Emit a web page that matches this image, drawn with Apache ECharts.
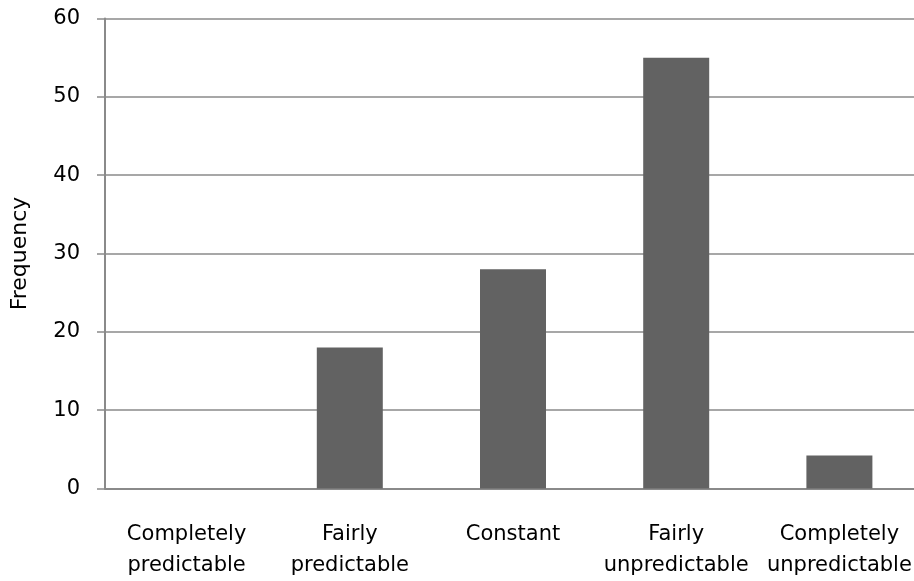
<!DOCTYPE html>
<html><head><meta charset="utf-8">
<script src="https://cdn.jsdelivr.net/npm/echarts@6/dist/echarts.min.js"></script>
<style>html,body{margin:0;padding:0;background:#fff}#c{width:914px;height:581px}</style>
</head><body><div id="c"></div>
<script>
const categories = ['Completely\npredictable', 'Fairly\npredictable', 'Constant', 'Fairly\nunpredictable', 'Completely\nunpredictable'];
const frequency = [0, 18, 28, 55, 4.2];
const yTicks = [0, 10, 20, 30, 40, 50, 60];

const chart = echarts.init(document.getElementById('c'));
chart.setOption({
  animation: false,
  grid: { left: 105, width: 816, top: 18.5, height: 470, outerBoundsMode: 'none', containLabel: false },
  xAxis: {
    type: 'category', data: categories,
    axisLine: { lineStyle: { color: '#8a8a8a', width: 2 } },
    axisTick: { show: false },
    axisLabel: { color: '#000', fontFamily: 'DejaVu Sans', fontSize: 21, lineHeight: 31, margin: 31, interval: 0 }
  },
  yAxis: {
    type: 'value', min: yTicks[0], max: yTicks[yTicks.length - 1], interval: 10,
    name: 'Frequency', nameLocation: 'middle', nameGap: 74, nameRotate: 90,
    nameTextStyle: { color: '#000', fontFamily: 'DejaVu Sans', fontSize: 22 },
    axisLine: { show: true, lineStyle: { color: '#8a8a8a', width: 2 } },
    axisTick: { show: true, length: 8, lineStyle: { color: '#8a8a8a', width: 1.5 } },
    axisLabel: { color: '#000', fontFamily: 'DejaVu Sans', fontSize: 21, margin: 25, padding: [6, 0, 0, 0] },
    splitLine: { lineStyle: { color: '#8a8a8a', width: 1.5 } }
  },
  series: [{
    type: 'bar', data: frequency, barWidth: 66,
    itemStyle: { color: '#626262' }
  }]
});
</script></body></html>
